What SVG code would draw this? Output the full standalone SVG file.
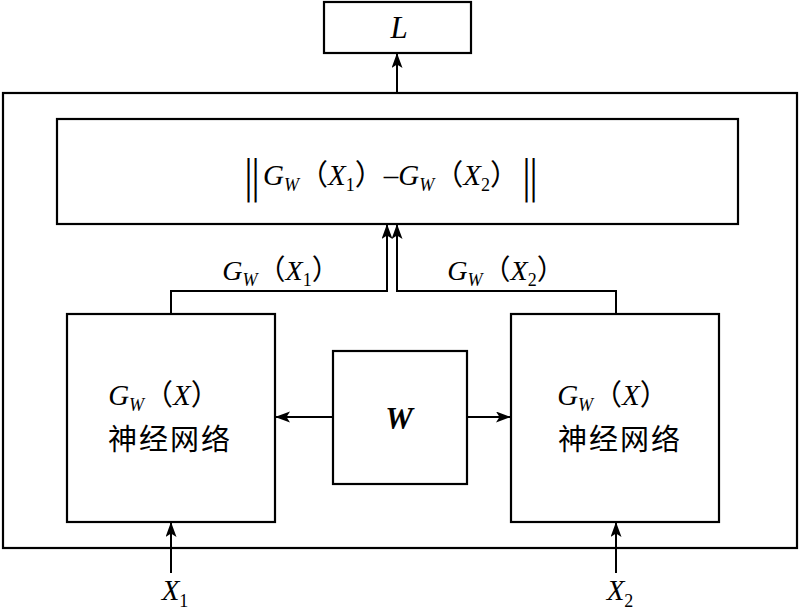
<svg xmlns="http://www.w3.org/2000/svg" width="800" height="610" viewBox="0 0 800 610">
<defs>
<style>
.box{fill:#fff;stroke:#000;stroke-width:2.2}
.ln{fill:none;stroke:#000;stroke-width:2}
.m{font-family:"Liberation Serif","Noto Sans CJK SC",serif;font-style:italic;fill:#000}
.cj{font-family:"Noto Sans CJK SC",sans-serif;font-style:normal}
.sub{font-size:18px}
.up{font-style:normal}
.bar{font-family:"DejaVu Sans",sans-serif;font-style:normal;font-size:44px;font-weight:200}
.zh{font-family:"Noto Sans CJK SC",sans-serif;font-size:29px;fill:#000}
</style>
<marker id="ah" markerUnits="userSpaceOnUse" markerWidth="18" markerHeight="12" refX="15" refY="5.5" orient="auto">
<path d="M0,0 L15,5.5 L0,11 L3.5,5.5 z" fill="#000"/>
</marker>
</defs>
<rect width="800" height="610" fill="#fff"/>
<g id="outer"><rect class="box" x="3" y="93" width="794" height="455"/></g>
<g id="nodeL"><rect class="box" x="324" y="2" width="147" height="51"/>
<text class="m" x="399" y="38" font-size="31" text-anchor="middle">L</text></g>
<g id="nodeDist"><rect class="box" x="57" y="119" width="681" height="105"/>
<text class="m" x="391" y="192" font-size="29" text-anchor="middle"><tspan class="bar">‖</tspan><tspan dy="-7">G</tspan><tspan class="sub" dy="6">W</tspan><tspan class="cj" dy="-6">（</tspan>X<tspan class="sub up" dy="6">1</tspan><tspan class="cj" dy="-6">）</tspan><tspan class="up">–</tspan>G<tspan class="sub" dy="6">W</tspan><tspan class="cj" dy="-6">（</tspan>X<tspan class="sub up" dy="6">2</tspan><tspan class="cj" dy="-6">）</tspan><tspan class="bar" dy="7">‖</tspan></text></g>
<g id="nodeNN1"><rect class="box" x="67" y="314" width="208" height="208"/>
<text class="m" x="164" y="405" font-size="29" text-anchor="middle">G<tspan class="sub" dy="6">W</tspan><tspan class="cj" dy="-6">（</tspan>X<tspan class="cj">）</tspan></text>
<text class="zh" x="170" y="450" text-anchor="middle" letter-spacing="2">神经网络</text></g>
<g id="nodeW"><rect class="box" x="333" y="351" width="134" height="133"/>
<text class="m" x="399" y="429" font-size="31" font-weight="bold" text-anchor="middle">W</text></g>
<g id="nodeNN2"><rect class="box" x="511" y="314" width="208" height="208"/>
<text class="m" x="613" y="405" font-size="29" text-anchor="middle">G<tspan class="sub" dy="6">W</tspan><tspan class="cj" dy="-6">（</tspan>X<tspan class="cj">）</tspan></text>
<text class="zh" x="620" y="450" text-anchor="middle" letter-spacing="2">神经网络</text></g>
<g id="labels">
<text class="m" x="281" y="280" font-size="28" text-anchor="middle">G<tspan class="sub" dy="6">W</tspan><tspan class="cj" dy="-6">（</tspan>X<tspan class="sub up" dy="6">1</tspan><tspan class="cj" dy="-6">）</tspan></text>
<text class="m" x="506" y="280" font-size="28" text-anchor="middle">G<tspan class="sub" dy="6">W</tspan><tspan class="cj" dy="-6">（</tspan>X<tspan class="sub up" dy="6">2</tspan><tspan class="cj" dy="-6">）</tspan></text>
<text class="m" x="175" y="600" font-size="29" text-anchor="middle">X<tspan class="sub up" dy="7">1</tspan></text>
<text class="m" x="620" y="600" font-size="29" text-anchor="middle">X<tspan class="sub up" dy="7">2</tspan></text>
</g>
<g id="connectors">
<path class="ln" d="M397,93 V53" marker-end="url(#ah)"/>
<path class="ln" d="M171,314 V291 H387 V224" marker-end="url(#ah)"/>
<path class="ln" d="M616,314 V291 H397 V224" marker-end="url(#ah)"/>
<path class="ln" d="M333,417 H275" marker-end="url(#ah)"/>
<path class="ln" d="M467,417 H511" marker-end="url(#ah)"/>
<path class="ln" d="M171,573 V522" marker-end="url(#ah)"/>
<path class="ln" d="M616,573 V522" marker-end="url(#ah)"/>
</g>
</svg>
